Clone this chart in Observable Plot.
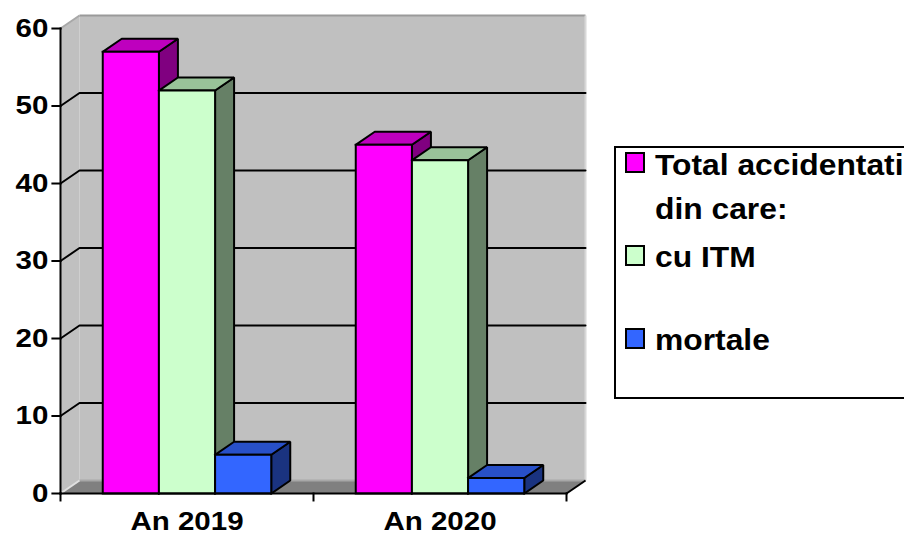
<!DOCTYPE html>
<html><head><meta charset="utf-8">
<script src="https://cdn.jsdelivr.net/npm/d3@7"></script>
<script src="https://cdn.jsdelivr.net/npm/@observablehq/plot@0.6"></script>
<style>
body{margin:0;background:#fff;}
#wrap{position:relative;width:904px;height:536px;overflow:hidden;background:#fff;}
#wrap svg{display:block;}
#legend{position:absolute;left:613px;top:145px;}
</style></head><body><div id="wrap"></div>
<script>
// ---- data ----
const categories = ["An 2019", "An 2020"];
const seriesNames = [["Total accidentati", "din care:"], ["cu ITM"], ["mortale"]];
const totalAccidentati = [57, 45];
const cuITM = [52, 43];
const mortale = [5, 2];
const yTicks = [0, 10, 20, 30, 40, 50, 60];
const frontColors = ["#FF00FF", "#CCFFCC", "#3366FF"];
const topColors = ["#BE00BE", "#99C399", "#2850C8"];
const sideColors = ["#800080", "#668066", "#1A3380"];

// ---- geometry (scale units) ----
const seriesValues = [totalAccidentati, cuITM, mortale];
const YMAX = 60;
const DX = 0.0751, DY = 1.68;          // 3D depth offset
const BW = 0.222, PAD = (1 - 3 * BW) / 2;
const TX = 0.032, TY = 0.9;            // tick lengths
const N = categories.length;

function polygons(list) {
  const out = []; let id = 0;
  for (const {pts, fill} of list) {
    for (const [x, y] of pts) out.push({id, x, y, fill});
    out.push({id, x: pts[0][0], y: pts[0][1], fill});
    id++;
  }
  return out;
}

// walls & floor
const wallPolys = polygons([
  {pts: [[0, 0], [DX, DY], [DX, YMAX + DY], [0, YMAX]], fill: "#C0C0C0"},
  {pts: [[DX, DY], [N + DX, DY], [N + DX, YMAX + DY], [DX, YMAX + DY]], fill: "#C0C0C0"},
  {pts: [[0, 0], [N, 0], [N + DX, DY], [DX, DY]], fill: "#808080"}
]);
const wallEdges = [
  {x1: DX, y1: YMAX + DY, x2: N + DX, y2: YMAX + DY, stroke: "#9A9A9A"},
  {x1: 0, y1: YMAX, x2: DX, y2: YMAX + DY, stroke: "#A8A8A8"},
  {x1: N + DX, y1: DY, x2: N + DX, y2: YMAX + DY, stroke: "#D8D8D8"},
  {x1: DX, y1: DY, x2: N + DX, y2: DY, stroke: "#A8A8A8"},
  {x1: 0, y1: 0, x2: DX, y2: DY, stroke: "#E0E0E0"},
  {x1: N, y1: 0, x2: N + DX, y2: DY, stroke: "#000000"}
];
// gridlines
const grid = [];
for (const v of yTicks.filter(v => v > 0 && v < YMAX)) {
  grid.push({v, x: 0, y: v}, {v, x: DX, y: v + DY}, {v, x: N + DX, y: v + DY});
}
// bars
const barFaces = [];
categories.forEach((c, i) => {
  seriesValues.forEach((vals, j) => {
    const v = vals[i];
    const x0 = i + PAD + j * BW, x1 = x0 + BW;
    barFaces.push({pts: [[x1, 0], [x1 + DX, DY], [x1 + DX, v + DY], [x1, v]], fill: sideColors[j]});
    barFaces.push({pts: [[x0, v], [x1, v], [x1 + DX, v + DY], [x0 + DX, v + DY]], fill: topColors[j]});
    barFaces.push({pts: [[x0, 0], [x1, 0], [x1, v], [x0, v]], fill: frontColors[j]});
  });
});
const bars = polygons(barFaces);
// axes
const axisLines = [
  {x1: 0, y1: 0, x2: 0, y2: YMAX},
  {x1: 0, y1: 0, x2: N, y2: 0},
  ...yTicks.map(v => ({x1: -TX, y1: v, x2: 0, y2: v})),
  ...d3.range(N + 1).map(k => ({x1: k, y1: 0, x2: k, y2: -TY}))
];

const font = "'Liberation Sans', Arial, sans-serif";
const chart = Plot.plot({
  width: 904, height: 536,
  marginLeft: 60, marginRight: 319, marginTop: 15, marginBottom: 43,
  x: {domain: [0, N + DX], axis: null},
  y: {domain: [0, YMAX + DY], axis: null},
  color: {type: "identity"},
  style: {background: "transparent", overflow: "visible", fontFamily: font},
  marks: [
    Plot.line(wallPolys, {x: "x", y: "y", z: "id", fill: "fill", stroke: "none"}),
    Plot.link(wallEdges, {x1: "x1", y1: "y1", x2: "x2", y2: "y2", stroke: "stroke", strokeWidth: 2}),
    Plot.line(grid, {x: "x", y: "y", z: "v", stroke: "#000", strokeWidth: 2, strokeLinejoin: "miter"}),
    Plot.line(bars, {x: "x", y: "y", z: "id", fill: "fill", stroke: "#000", strokeWidth: 2, strokeLinejoin: "miter", strokeLinecap: "square"}),
    Plot.link(axisLines, {x1: "x1", y1: "y1", x2: "x2", y2: "y2", stroke: "#000", strokeWidth: 2, strokeLinecap: "square"}),
    Plot.text(yTicks, {x: () => -TX, y: d => d, text: d => String(d), textAnchor: "end", dx: -4, fontSize: 25, fontWeight: "bold", fill: "#000"}),
    Plot.text(categories, {x: (d, i) => i + 0.5, y: () => 0, text: d => d, lineAnchor: "top", dy: 19, fontSize: 25, fontWeight: "bold", fill: "#000"})
  ]
});
chart.querySelectorAll("text").forEach(t => {
  t.setAttribute("transform", (t.getAttribute("transform") || "") + " scale(1.18,1)");
});
const wrap = document.getElementById("wrap");
wrap.appendChild(chart);

// ---- legend ----
const lg = d3.create("svg").attr("id", "legend").attr("width", 291).attr("height", 256)
  .style("font-family", font).style("font-weight", "bold");
lg.append("rect").attr("x", 2).attr("y", 2).attr("width", 400).attr("height", 251)
  .attr("fill", "#fff").attr("stroke", "#000").attr("stroke-width", 2);
const swatchTop = [8, 101, 184];
const lineBase = [[30, 74], [122], [205]];
seriesNames.forEach((lines, j) => {
  lg.append("rect").attr("x", 13).attr("y", swatchTop[j]).attr("width", 18).attr("height", 19)
    .attr("fill", frontColors[j]).attr("stroke", "#000").attr("stroke-width", 2);
  lines.forEach((s, k) => {
    lg.append("text").attr("transform", `translate(42,${lineBase[j][k]}) scale(1.06,1)`)
      .attr("font-size", 30).attr("fill", "#000").text(s);
  });
});
wrap.appendChild(lg.node());
</script></body></html>
